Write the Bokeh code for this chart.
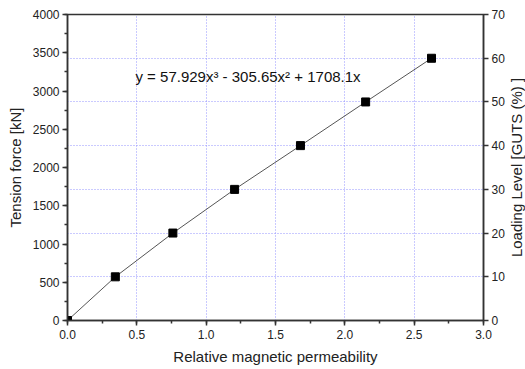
import math
from bokeh.plotting import figure
from bokeh.layouts import row
from bokeh.models import (Range1d, LinearAxis, SingleIntervalTicker, FixedTicker,
                          Grid, Label, ColumnDataSource, NumeralTickFormatter)
from bokeh.embed import file_html
from bokeh.resources import INLINE

# Data
permeability = [0.0, 0.345, 0.76, 1.205, 1.68, 2.15, 2.625]
tension_kN = [0, 571, 1143, 1714, 2286, 2857, 3428]
x_ticks = [0.0, 0.5, 1.0, 1.5, 2.0, 2.5, 3.0]
y_ticks = [0, 500, 1000, 1500, 2000, 2500, 3000, 3500, 4000]
level_ticks = [0, 10, 20, 30, 40, 50, 60, 70]
level_grid = [10, 20, 30, 40, 50, 60]
equation = "y = 57.929x\u00b3 - 305.65x\u00b2 + 1708.1x"
right_title = "Loading Level [GUTS (%) ]"

FONT = "Liberation Sans"
H = 367
TOP, BOTTOM = 14, 47

p = figure(width=507, height=H, output_backend="svg", toolbar_location=None,
           x_range=Range1d(0, 3), y_range=Range1d(0, 4000),
           min_border_left=67, min_border_right=20, min_border_top=TOP,
           min_border_bottom=10)
p.extra_y_ranges = {"pct": Range1d(0, 70)}

p.outline_line_color = "#333333"
p.outline_line_width = 1.5
p.background_fill_color = "white"
p.border_fill_color = "white"

# grids
p.xgrid.ticker = FixedTicker(ticks=x_ticks[1:-1])
p.xgrid.grid_line_color = "#9595ff"
p.xgrid.grid_line_dash = "1 2"
p.xgrid.grid_line_width = 1
p.ygrid.visible = False
g = Grid(dimension=1, ticker=FixedTicker(ticks=level_grid), y_range_name="pct",
         grid_line_color="#9595ff", grid_line_dash="1 2", grid_line_width=1)
p.add_layout(g)

def style_axis(ax):
    ax.axis_line_color = "#333333"
    ax.axis_line_width = 1.5
    ax.major_tick_line_color = "#333333"
    ax.minor_tick_line_color = "#333333"
    ax.major_tick_line_width = 1.5
    ax.minor_tick_line_width = 1.5
    ax.major_tick_out = 5
    ax.major_tick_in = 0
    ax.minor_tick_out = 3
    ax.minor_tick_in = 0
    ax.major_label_text_font = FONT
    ax.major_label_text_font_size = "12px"
    ax.major_label_text_color = "#222222"
    ax.axis_label_text_font = FONT
    ax.axis_label_text_font_size = "15px"
    ax.axis_label_text_font_style = "normal"
    ax.axis_label_text_color = "#222222"

p.xaxis.ticker = SingleIntervalTicker(interval=0.5, num_minor_ticks=2)
p.xaxis.formatter = NumeralTickFormatter(format="0.0")
p.xaxis.axis_label = "Relative magnetic permeability"
p.xaxis.major_label_standoff = 4
p.xaxis.axis_label_standoff = 6
style_axis(p.xaxis[0])

p.yaxis.ticker = SingleIntervalTicker(interval=500, num_minor_ticks=2)
p.yaxis.axis_label = "Tension force [kN]"
p.yaxis.major_label_standoff = 3
p.yaxis.axis_label_standoff = 6
style_axis(p.yaxis[0])

right = LinearAxis(y_range_name="pct", ticker=FixedTicker(ticks=level_ticks))
style_axis(right)
right.minor_tick_out = 0
right.major_label_standoff = 3
p.add_layout(right, "right")

src = ColumnDataSource(dict(x=permeability, y=tension_kN))
p.line("x", "y", source=src, line_color="#555555", line_width=1)
p.scatter("x", "y", source=src, marker="square", size=8, fill_color="black",
          line_color="black")

p.add_layout(Label(x=0.49, y=3185, text=equation, text_font=FONT,
                   text_font_size="15px", text_color="#111111",
                   text_baseline="alphabetic"))

# narrow strip on the right holding the right-axis title (reads bottom-to-top)
t = figure(width=18, height=H, output_backend="svg", toolbar_location=None,
           x_range=Range1d(0, 1), y_range=Range1d(0, 1),
           x_axis_type=None, y_axis_type=None,
           min_border_left=0, min_border_right=0, min_border_top=TOP,
           min_border_bottom=BOTTOM)
t.outline_line_color = None
t.xgrid.visible = False
t.ygrid.visible = False
t.background_fill_color = "white"
t.border_fill_color = "white"
t.add_layout(Label(x=0.5, y=0.5, text=right_title, angle=math.pi / 2,
                   text_align="center", text_baseline="middle", text_font=FONT,
                   text_font_size="15px", text_color="#222222"))

layout = row(p, t)
open("out.html", "w").write(file_html(layout, INLINE))
